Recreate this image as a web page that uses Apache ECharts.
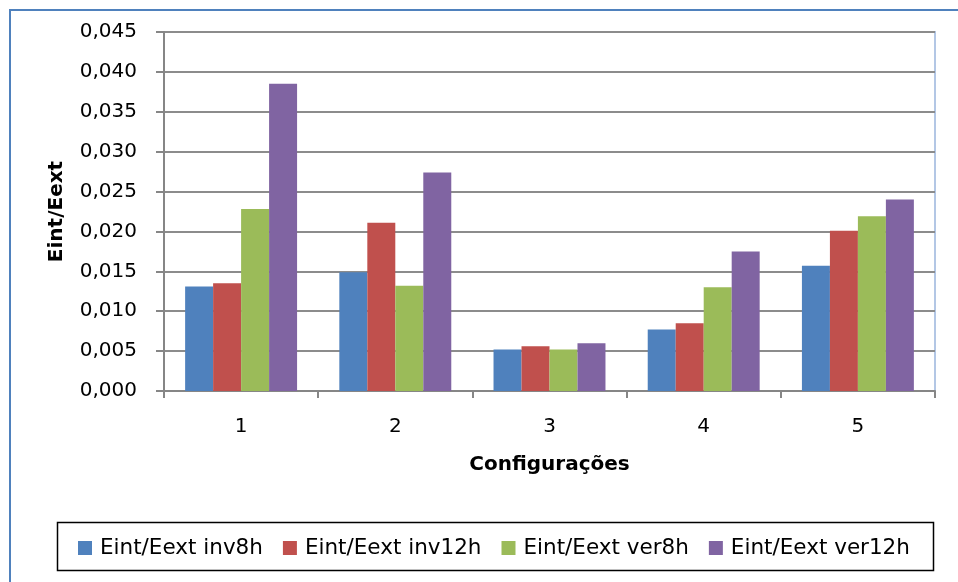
<!DOCTYPE html>
<html>
<head>
<meta charset="utf-8">
<script src="https://cdn.jsdelivr.net/npm/echarts@6/dist/echarts.min.js"></script>
<style>
  html, body { margin: 0; padding: 0; background: #fff; }
  #chart { width: 958px; height: 582px; }
</style>
</head>
<body>
<div id="chart"></div>
<script>
// Configurations on the x axis
const categories = ['1', '2', '3', '4', '5'];

// Eint/Eext ratios per configuration
const inv8h  = [0.0131, 0.0149, 0.0052, 0.0077, 0.0157];
const inv12h = [0.0135, 0.0211, 0.0056, 0.0085, 0.0201];
const ver8h  = [0.0228, 0.0132, 0.0052, 0.0130, 0.0219];
const ver12h = [0.0385, 0.0274, 0.0060, 0.0175, 0.0240];

const seriesNames = ['Eint/Eext inv8h', 'Eint/Eext inv12h', 'Eint/Eext ver8h', 'Eint/Eext ver12h'];
const seriesData = [inv8h, inv12h, ver8h, ver12h];
const colors = ['#4F81BD', '#C0504D', '#9BBB59', '#8064A2'];

const FONT = '"DejaVu Sans", sans-serif';

const chart = echarts.init(document.getElementById('chart'), null, { renderer: 'canvas' });

chart.setOption({
  animation: false,
  backgroundColor: '#ffffff',
  color: colors,
  textStyle: { fontFamily: FONT },
  grid: {
    left: 164, right: 23, top: 32, bottom: 191,
    show: true,
    borderColor: '#B3C7E5',
    borderWidth: 2,
    backgroundColor: 'transparent'
  },
  graphic: [
    {
      type: 'rect',
      shape: { x: 10, y: 10, width: 1000, height: 1000 },
      style: { fill: 'none', stroke: '#4F81BD', lineWidth: 2 },
      z: 100
    },
    {
      type: 'rect',
      shape: { x: 57.5, y: 522.5, width: 876, height: 48 },
      style: { fill: 'none', stroke: '#000', lineWidth: 1.5 },
      z: 100
    }
  ],
  legend: {
    data: seriesNames,
    left: 78,
    top: 537,
    itemWidth: 14,
    itemHeight: 14,
    itemGap: 20,
    icon: 'rect',
    padding: 0,
    textStyle: { fontFamily: FONT, fontSize: 21.5, color: '#000', padding: [0, 0, 0, 3] }
  },
  xAxis: {
    type: 'category',
    data: categories,
    name: 'Configurações',
    nameLocation: 'middle',
    nameGap: 64,
    nameTextStyle: { fontFamily: FONT, fontSize: 20, fontWeight: 'bold', color: '#000' },
    axisLine: { lineStyle: { color: '#868686', width: 2 } },
    axisTick: { show: true, length: 7, lineStyle: { color: '#868686', width: 2 } },
    axisLabel: { fontFamily: FONT, fontSize: 20, color: '#000', margin: 26 },
    splitLine: { show: false }
  },
  yAxis: {
    type: 'value',
    min: 0,
    max: 0.045,
    interval: 0.005,
    name: 'Eint/Eext',
    nameLocation: 'middle',
    nameRotate: 90,
    nameGap: 97,
    nameTextStyle: { fontFamily: FONT, fontSize: 20, fontWeight: 'bold', color: '#000' },
    axisLine: { show: true, lineStyle: { color: '#868686', width: 2 } },
    axisTick: { show: true, length: 8, lineStyle: { color: '#868686', width: 2 } },
    axisLabel: {
      fontFamily: FONT, fontSize: 20, color: '#000', margin: 27,
      formatter: v => v.toFixed(3).replace('.', ',')
    },
    splitLine: { show: true, lineStyle: { color: '#8C8C8C', width: 2 } }
  },
  series: seriesNames.map((name, i) => ({
    name: name,
    type: 'bar',
    data: seriesData[i],
    barGap: '0%',
    barCategoryGap: '27.4%',
    itemStyle: { color: colors[i] }
  }))
});
</script>
</body>
</html>
